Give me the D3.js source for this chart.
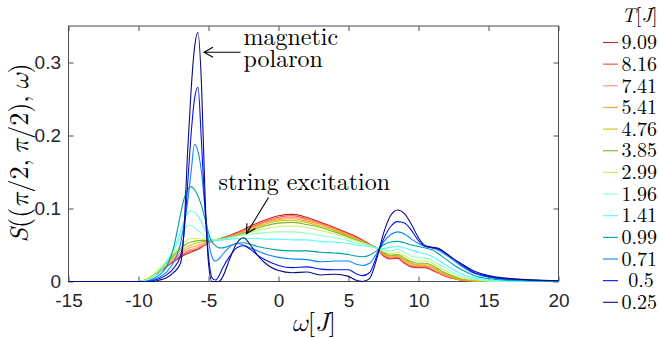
<!DOCTYPE html>
<html><head><meta charset="utf-8">
<script src="https://cdn.jsdelivr.net/npm/d3@7"></script>
<style>
body{margin:0;background:#fff}
svg{display:block}
</style></head><body>
<svg id="c" width="659" height="339"></svg>
<script>
// ---- data ----
const omega = [-15,-10,-9.5,-9,-8.5,-8,-7.5,-7,-6.75,-6.5,-6.25,-6,-5.75,-5.5,-5.25,-5,-4.75,-4.5,-4.25,-4,-3.5,-3,-2.5,-2,-1.5,-1,0,1,2,3,4,5,5.5,6,6.5,7,7.5,8,8.5,9,9.5,10,10.5,11,11.5,12,12.5,13,14,15,16,20];
const temps = ["9.09","8.16","7.41","5.41","4.76","3.85","2.99","1.96","1.41","0.99","0.71"," 0.5","0.25"];
const S_909 = [0,0,0.002,0.007,0.013,0.020,0.027,0.033,0.036,0.038,0.040,0.042,0.044,0.047,0.050,0.053,0.055,0.057,0.058,0.060,0.063,0.067,0.071,0.076,0.080,0.084,0.090,0.092,0.088,0.081,0.074,0.066,0.062,0.057,0.051,0.046,0.035,0.031,0.032,0.025,0.020,0.019,0.019,0.015,0.011,0.007,0.004,0.002,0.0005,0,0,0];
const S_816 = [0,0,0.002,0.007,0.014,0.021,0.028,0.035,0.038,0.040,0.042,0.043,0.045,0.048,0.050,0.053,0.055,0.057,0.058,0.059,0.062,0.066,0.070,0.074,0.078,0.082,0.088,0.090,0.086,0.080,0.073,0.065,0.061,0.056,0.050,0.046,0.036,0.032,0.033,0.026,0.021,0.020,0.020,0.016,0.011,0.007,0.004,0.002,0.0005,0,0,0];
const S_741 = [0,0,0.002,0.007,0.015,0.022,0.030,0.037,0.040,0.042,0.044,0.045,0.047,0.049,0.051,0.054,0.055,0.057,0.058,0.059,0.062,0.065,0.069,0.073,0.077,0.081,0.086,0.088,0.085,0.079,0.072,0.064,0.060,0.055,0.050,0.046,0.037,0.033,0.034,0.027,0.022,0.021,0.021,0.017,0.012,0.008,0.005,0.002,0.0007,0,0,0];
const S_541 = [0,0,0.002,0.008,0.016,0.024,0.032,0.039,0.042,0.045,0.047,0.048,0.050,0.051,0.053,0.055,0.056,0.057,0.058,0.059,0.061,0.064,0.068,0.072,0.076,0.080,0.085,0.086,0.083,0.078,0.071,0.063,0.059,0.054,0.050,0.046,0.038,0.034,0.035,0.029,0.024,0.022,0.022,0.019,0.013,0.009,0.005,0.003,0.001,0,0,0];
const S_476 = [0,0,0.002,0.008,0.016,0.025,0.034,0.042,0.045,0.048,0.050,0.052,0.053,0.054,0.055,0.056,0.056,0.057,0.058,0.059,0.061,0.064,0.067,0.071,0.075,0.078,0.083,0.084,0.081,0.076,0.070,0.062,0.058,0.054,0.050,0.046,0.039,0.035,0.036,0.030,0.025,0.023,0.023,0.020,0.014,0.010,0.006,0.003,0.001,0,0,0];
const S_385 = [0,0,0.002,0.008,0.017,0.026,0.036,0.045,0.049,0.052,0.054,0.055,0.056,0.056,0.056,0.056,0.056,0.057,0.058,0.059,0.061,0.063,0.066,0.069,0.073,0.076,0.080,0.081,0.078,0.074,0.068,0.061,0.057,0.054,0.050,0.046,0.040,0.036,0.037,0.032,0.027,0.025,0.025,0.022,0.016,0.011,0.007,0.004,0.0015,0.0003,0,0];
const S_299 = [0,0,0.002,0.008,0.018,0.028,0.039,0.049,0.054,0.057,0.059,0.059,0.059,0.058,0.058,0.057,0.057,0.057,0.058,0.058,0.060,0.062,0.064,0.067,0.070,0.072,0.075,0.076,0.074,0.070,0.065,0.059,0.056,0.053,0.050,0.046,0.041,0.038,0.040,0.035,0.030,0.028,0.028,0.025,0.019,0.014,0.009,0.005,0.002,0.0005,0,0];
const S_196 = [0,0,0.001,0.006,0.016,0.028,0.043,0.060,0.070,0.076,0.077,0.074,0.070,0.066,0.062,0.059,0.057,0.057,0.057,0.058,0.060,0.062,0.064,0.065,0.066,0.067,0.068,0.068,0.066,0.063,0.060,0.056,0.053,0.051,0.049,0.046,0.043,0.042,0.044,0.040,0.035,0.033,0.032,0.029,0.023,0.018,0.012,0.008,0.003,0.001,0,0];
const S_141 = [0,0,0.001,0.004,0.012,0.025,0.043,0.068,0.083,0.093,0.097,0.095,0.090,0.081,0.071,0.062,0.057,0.056,0.056,0.057,0.058,0.059,0.059,0.059,0.059,0.058,0.058,0.057,0.057,0.055,0.054,0.052,0.050,0.049,0.048,0.046,0.045,0.047,0.048,0.046,0.043,0.040,0.038,0.034,0.028,0.022,0.016,0.011,0.005,0.002,0.0005,0];
const S_099 = [0,0,0,0.003,0.009,0.020,0.046,0.092,0.113,0.125,0.130,0.126,0.117,0.104,0.086,0.067,0.054,0.049,0.046,0.046,0.049,0.052,0.053,0.051,0.048,0.046,0.043,0.042,0.042,0.040,0.039,0.037,0.035,0.034,0.036,0.042,0.050,0.054,0.055,0.053,0.050,0.048,0.046,0.043,0.037,0.030,0.023,0.017,0.008,0.004,0.002,0];
const S_071 = [0,0,0,0.002,0.006,0.013,0.026,0.052,0.078,0.108,0.148,0.188,0.178,0.150,0.100,0.056,0.034,0.028,0.031,0.037,0.047,0.052,0.050,0.046,0.042,0.038,0.033,0.031,0.030,0.027,0.028,0.028,0.024,0.022,0.025,0.038,0.054,0.064,0.068,0.065,0.058,0.052,0.048,0.046,0.042,0.036,0.029,0.022,0.011,0.006,0.003,0.001];
const S_050 = [0,0,0,0.001,0.004,0.009,0.018,0.035,0.065,0.130,0.200,0.250,0.266,0.190,0.100,0.035,0.005,0.002,0.008,0.018,0.034,0.046,0.049,0.044,0.036,0.030,0.022,0.019,0.020,0.017,0.016,0.016,0.011,0.008,0.012,0.034,0.058,0.075,0.082,0.080,0.070,0.056,0.048,0.046,0.044,0.038,0.031,0.024,0.012,0.007,0.004,0.001];
const S_025 = [0,0,0,0,0.002,0.005,0.012,0.025,0.070,0.175,0.260,0.320,0.341,0.270,0.120,0.025,0,0,0,0.006,0.030,0.052,0.060,0.050,0.036,0.026,0.015,0.012,0.013,0.009,0.010,0.007,0.002,0,0.004,0.030,0.066,0.090,0.098,0.093,0.078,0.060,0.049,0.047,0.045,0.038,0.031,0.025,0.014,0.008,0.005,0.001];
const series = [S_909,S_816,S_741,S_541,S_476,S_385,S_299,S_196,S_141,S_099,S_071,S_050,S_025];
const xTicks = [-15,-10,-5,0,5,10,15,20];
const xTickLabels = ["-15","-10","-5","0","5","10","15","20"];
const yTicks = [0,0.1,0.2,0.3];
const yTickLabels = ["0","0.1","0.2","0.3"];

// ---- styles ----
const colors = ["#c1272d","#ff4b2b","#ff8c84","#ffa040","#d4c400","#7db52e","#c6f65a","#8effc8","#55fbfb","#00a0a6","#0a86ff","#0012f2","#0a0a82"];
const axisColor = "#4d4d4d";
const SANS = '"Liberation Sans", Arial, sans-serif';
const TEX = '"Latin Modern Roman", "Latin Modern Math", "Liberation Serif", "DejaVu Serif", serif';

const svg = d3.select("#c");
const x = d3.scaleLinear().domain([-15,20]).range([68.5,558.5]);
const y = d3.scaleLinear().domain([0,0.35]).range([281.5,26]);

function styleAxis(g){
  g.select(".domain").remove();
  g.selectAll("line").attr("stroke",axisColor).attr("stroke-width",1);
  g.selectAll("text").attr("fill","#262626").attr("font-family",SANS).attr("font-size","19px");
}
svg.append("g").attr("transform",`translate(0,${y(0)})`)
  .call(d3.axisBottom(x).tickValues(xTicks).tickSize(-5).tickPadding(12.5).tickFormat((d,i)=>xTickLabels[i]))
  .call(styleAxis);
svg.append("g").attr("transform",`translate(0,${y(0.35)})`)
  .call(d3.axisTop(x).tickValues(xTicks).tickSize(-5).tickFormat(""))
  .call(styleAxis);
svg.append("g").attr("transform",`translate(${x(-15)},0)`)
  .call(d3.axisLeft(y).tickValues(yTicks).tickSize(-5).tickPadding(7.5).tickFormat((d,i)=>yTickLabels[i]))
  .call(styleAxis);
svg.append("g").attr("transform",`translate(${x(20)},0)`)
  .call(d3.axisRight(y).tickValues(yTicks).tickSize(-5).tickFormat(""))
  .call(styleAxis);
svg.append("rect").attr("x",x(-15)).attr("y",y(0.35))
  .attr("width",x(20)-x(-15)).attr("height",y(0)-y(0.35))
  .attr("fill","none").attr("stroke",axisColor).attr("stroke-width",1);

// ---- curves ----
const line = d3.line().x((d,i)=>x(omega[i])).y(d=>y(d)).curve(d3.curveMonotoneX);
svg.append("g").selectAll("path").data(series).join("path")
  .attr("d",line).attr("fill","none")
  .attr("stroke",(d,i)=>colors[i]).attr("stroke-width",1.1)
  .attr("stroke-linejoin","round");

// ---- text helper ----
function tex(parent, px, py, size, parts, anchor, transform){
  const t = parent.append("text")
    .attr("font-family",TEX).attr("font-size",size+"px").attr("fill","#000")
    .attr("text-anchor",anchor||"start").style("white-space","pre");
  if (transform) t.attr("transform",transform); else t.attr("x",px).attr("y",py);
  parts.forEach(p=>{
    const s = t.append("tspan").text(p[0]);
    if (p[1]) s.attr("font-style","italic");
  });
  return t;
}

// ---- annotations ----
function arrow(x1,y1,x2,y2){
  const dx=x2-x1, dy=y2-y1, L=Math.hypot(dx,dy), ux=dx/L, uy=dy/L;
  const hl=9, hw=5;
  const bx=x2-ux*hl, by=y2-uy*hl;
  svg.append("path")
    .attr("d",`M${x1},${y1}L${x2},${y2}M${bx-uy*hw},${by+ux*hw}L${x2},${y2}L${bx+uy*hw},${by-ux*hw}`)
    .attr("fill","none").attr("stroke","#000").attr("stroke-width",1.1);
}
arrow(x(-2.71),y(0.314),x(-5.32),y(0.314));
arrow(x(-0.71),y(0.115),x(-2.29),y(0.0658));
tex(svg, x(-2.5), y(0.3235), 24, [["magnetic"]]);
tex(svg, x(-2.5), y(0.2945), 24, [["polaron"]]);
tex(svg, x(-4.29), y(0.1247), 24, [["string excitation"]]);

// axis titles
tex(svg, (x(-15)+x(20))/2, 331, 26, [["ω",1],["["],["J",1],["]"]], "middle");
tex(svg, 0, 0, 26, [["S",1],["(("],["π",1],["/2,\u2009"],["π",1],["/2),\u2009"],["ω",1],[")"]], "middle",
  "translate(28,153) rotate(-90)");

// ---- legend ----
tex(svg, 621.5, 22, 20, [["T",1],["["],["J",1],["]"]]);
temps.forEach((t,i)=>{
  const yy = 42.5 + i*21.65;
  svg.append("line").attr("x1",603).attr("x2",618).attr("y1",yy).attr("y2",yy)
    .attr("stroke",colors[i]).attr("stroke-width",1.1);
  tex(svg, 621.5, yy+6.7, 20, [[t]]);
});
</script>
</body></html>
